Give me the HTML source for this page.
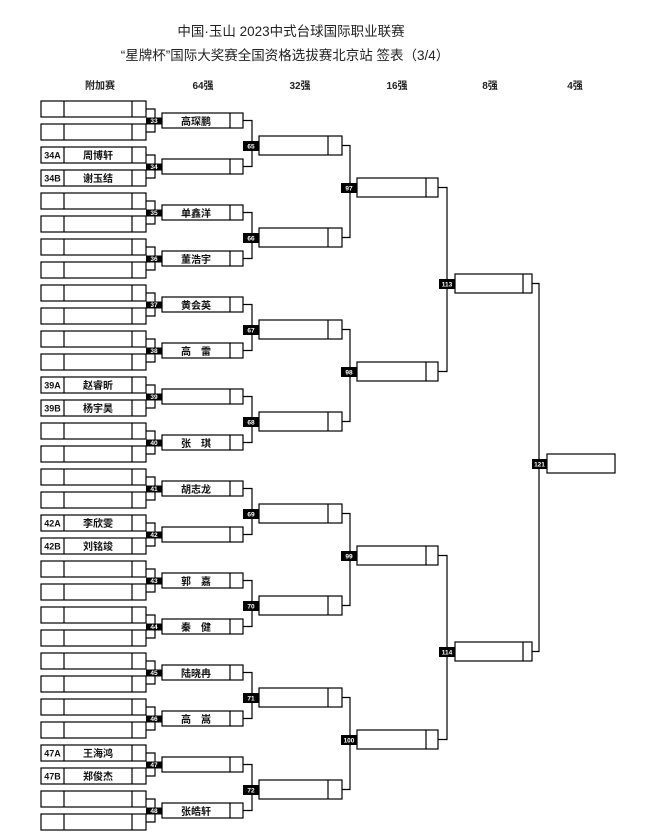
<!DOCTYPE html>
<html><head><meta charset="utf-8"><style>
body{margin:0;background:#fff;width:649px;height:840px;overflow:hidden}
svg{display:block}
text{font-family:"Liberation Sans","Noto Sans CJK SC",sans-serif}
.t{font-size:13.5px;fill:#222}
.h{font-size:10px;font-weight:bold;fill:#222}
.n{font-size:10px;font-weight:bold;fill:#111}
.b{font-size:6.5px;font-weight:bold;fill:#fff}
</style></head><body>
<svg width="649" height="840" viewBox="0 0 649 840">
<defs>
<g id="pair" fill="none" stroke="#000" stroke-width="1.2">
<rect x="41" y="0" width="105" height="16" fill="#fff"/>
<rect x="41" y="23" width="105" height="16" fill="#fff"/>
<path d="M64 0V16M64 23V39M132 0V16M132 23V39"/>
<path d="M146 8H155V31H146M155 19.5H162"/>
<rect x="146" y="16.5" width="16" height="7" fill="#000" stroke="none"/>
<rect x="162" y="12" width="81" height="15" fill="#fff"/>
<path d="M230 12V27"/>
</g>
<g id="g32" fill="none" stroke="#000" stroke-width="1.2">
<path d="M243 120.5H252V166.5H243M252 145.5H259"/>
<rect x="259" y="136" width="83" height="19" fill="#fff"/>
<path d="M328 136V155"/>
<rect x="243" y="141" width="16" height="10" fill="#000" stroke="none"/>
</g>
<g id="g16" fill="none" stroke="#000" stroke-width="1.2">
<path d="M342 145.5H350V237.5H342M350 187.5H357"/>
<rect x="357" y="178" width="81" height="19" fill="#fff"/>
<path d="M426 178V197"/>
<rect x="341" y="183" width="16" height="10" fill="#000" stroke="none"/>
</g>
<g id="g8" fill="none" stroke="#000" stroke-width="1.2">
<path d="M438 187.5H447V371.5H438M447 283.5H455"/>
<rect x="455" y="274" width="77" height="19" fill="#fff"/>
<path d="M523 274V293"/>
<rect x="439" y="279" width="16" height="10" fill="#000" stroke="none"/>
</g>
</defs>
<text class="t" x="291" y="36" text-anchor="middle">中国·玉山 2023中式台球国际职业联赛</text>
<text class="t" x="285" y="60" text-anchor="middle">“星牌杯”国际大奖赛全国资格选拔赛北京站  签表（3/4）</text>
<text class="h" x="100" y="89" text-anchor="middle">附加赛</text>
<text class="h" x="203" y="89" text-anchor="middle">64强</text>
<text class="h" x="300" y="89" text-anchor="middle">32强</text>
<text class="h" x="397" y="89" text-anchor="middle">16强</text>
<text class="h" x="490" y="89" text-anchor="middle">8强</text>
<text class="h" x="575" y="89" text-anchor="middle">4强</text>

<use href="#pair" y="101"/><use href="#pair" y="147"/><use href="#pair" y="193"/><use href="#pair" y="239"/>
<use href="#pair" y="285"/><use href="#pair" y="331"/><use href="#pair" y="377"/><use href="#pair" y="423"/>
<use href="#pair" y="469"/><use href="#pair" y="515"/><use href="#pair" y="561"/><use href="#pair" y="607"/>
<use href="#pair" y="653"/><use href="#pair" y="699"/><use href="#pair" y="745"/><use href="#pair" y="791"/>
<use href="#g32" y="0"/><use href="#g32" y="92"/><use href="#g32" y="184"/><use href="#g32" y="276"/>
<use href="#g32" y="368"/><use href="#g32" y="460"/><use href="#g32" y="552"/><use href="#g32" y="644"/>
<use href="#g16" y="0"/><use href="#g16" y="184"/><use href="#g16" y="368"/><use href="#g16" y="552"/>
<use href="#g8" y="0"/><use href="#g8" y="368"/>
<g fill="none" stroke="#000" stroke-width="1.2">
<path d="M532 283.5H539V651.5H532M539 463.5H547"/>
<rect x="547" y="454" width="68" height="19" fill="#fff"/>
<rect x="532" y="459" width="15" height="10" fill="#000" stroke="none"/>
</g>

<g class="b" text-anchor="middle">
<text x="154" y="123">33</text><text x="154" y="169">34</text><text x="154" y="215">35</text><text x="154" y="261">36</text>
<text x="154" y="307">37</text><text x="154" y="353">38</text><text x="154" y="399">39</text><text x="154" y="445">40</text>
<text x="154" y="491">41</text><text x="154" y="537">42</text><text x="154" y="583">43</text><text x="154" y="629">44</text>
<text x="154" y="675">45</text><text x="154" y="721">46</text><text x="154" y="767">47</text><text x="154" y="813">48</text>
<text x="251" y="148.5">65</text><text x="251" y="240.5">66</text><text x="251" y="332.5">67</text><text x="251" y="424.5">68</text>
<text x="251" y="516.5">69</text><text x="251" y="608.5">70</text><text x="251" y="700.5">71</text><text x="251" y="792.5">72</text>
<text x="349" y="190.5">97</text><text x="349" y="374.5">98</text><text x="349" y="558.5">99</text><text x="349" y="742.5">100</text>
<text x="447" y="286.5">113</text><text x="447" y="654.5">114</text>
<text x="539.5" y="466.5">121</text>
</g>

<g class="n" text-anchor="middle">
<text x="196" y="125">高琛鹏</text>
<text x="196" y="217">单鑫洋</text>
<text x="196" y="263">董浩宇</text>
<text x="196" y="309">黄会英</text>
<text x="196" y="355">高　雷</text>
<text x="196" y="447">张　琪</text>
<text x="196" y="493">胡志龙</text>
<text x="196" y="585">郭　嘉</text>
<text x="196" y="631">秦　健</text>
<text x="196" y="677">陆晓冉</text>
<text x="196" y="723">高　嵩</text>
<text x="196" y="815">张皓轩</text>
<text x="98" y="159">周博轩</text><text x="98" y="182">谢玉结</text>
<text x="98" y="389">赵睿昕</text><text x="98" y="412">杨宇昊</text>
<text x="98" y="527">李欣雯</text><text x="98" y="550">刘铭竣</text>
<text x="98" y="757">王海鸿</text><text x="98" y="780">郑俊杰</text>
</g>
<g class="n" style="font-size:9px" text-anchor="middle">
<text x="52.5" y="158.5">34A</text><text x="52.5" y="181.5">34B</text>
<text x="52.5" y="388.5">39A</text><text x="52.5" y="411.5">39B</text>
<text x="52.5" y="526.5">42A</text><text x="52.5" y="549.5">42B</text>
<text x="52.5" y="756.5">47A</text><text x="52.5" y="779.5">47B</text>
</g>
</svg>
</body></html>
